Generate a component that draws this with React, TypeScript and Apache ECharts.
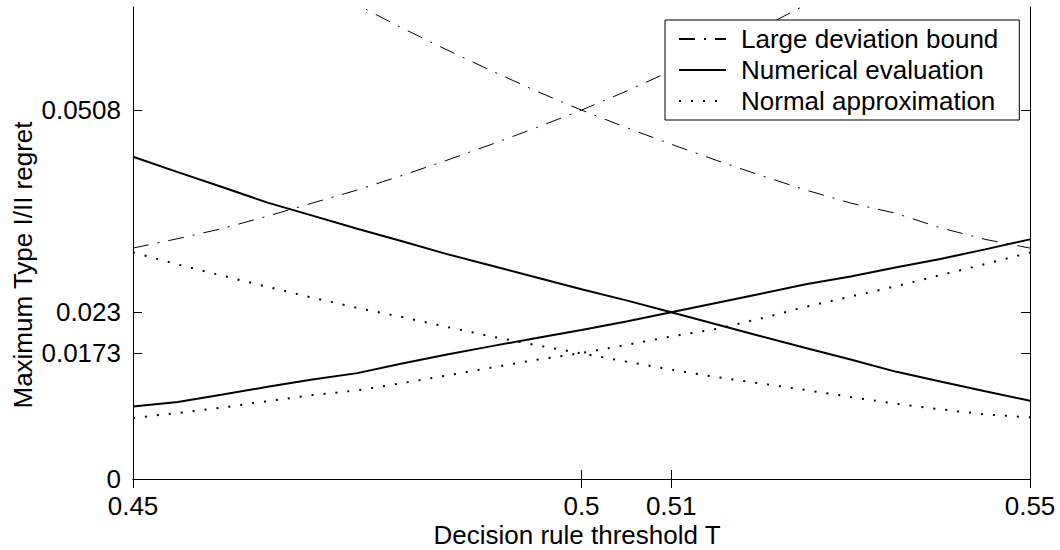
import React, { useEffect, useRef } from "react";
import * as echarts from "echarts";

const thresholds = [0.45, 0.455, 0.46, 0.465, 0.47, 0.475, 0.48, 0.485, 0.49, 0.495, 0.5, 0.505, 0.51, 0.515, 0.52, 0.525, 0.53, 0.535, 0.54, 0.545, 0.55];

const numericalDecreasing = [0.04437, 0.04226, 0.04017, 0.03806, 0.03627, 0.03446, 0.03274, 0.03097, 0.02936, 0.02775, 0.02614, 0.0246, 0.02296, 0.02132, 0.01967, 0.01803, 0.01646, 0.01479, 0.01344, 0.01209, 0.01078];
const numericalIncreasing = [0.00998, 0.0106, 0.01163, 0.01269, 0.0137, 0.01458, 0.0159, 0.01715, 0.0183, 0.01941, 0.02053, 0.02168, 0.02295, 0.02423, 0.02552, 0.02682, 0.02788, 0.02913, 0.03031, 0.03162, 0.033];
const normalDecreasing = [0.03121, 0.02954, 0.02799, 0.02646, 0.02497, 0.02357, 0.0223, 0.02094, 0.01962, 0.01842, 0.0173, 0.01616, 0.01506, 0.01404, 0.01316, 0.01225, 0.0113, 0.01038, 0.0096, 0.00889, 0.00849];
const normalIncreasing = [0.0084, 0.00909, 0.00984, 0.01072, 0.01156, 0.01221, 0.0132, 0.01425, 0.01535, 0.01642, 0.01735, 0.01847, 0.01962, 0.02065, 0.0221, 0.02372, 0.02512, 0.02653, 0.02807, 0.0296, 0.03118];

const ldIncreasingT = [0.45, 0.455, 0.46, 0.465, 0.47, 0.475, 0.48, 0.485, 0.49, 0.495, 0.5, 0.505, 0.51, 0.515, 0.52, 0.525, 0.53];
const ldIncreasing = [0.0318, 0.0331, 0.0345, 0.0362, 0.038, 0.0398, 0.0418, 0.0439, 0.0461, 0.0484, 0.0508, 0.0534, 0.0562, 0.0591, 0.0621, 0.0653, 0.0687];
const ldDecreasingT = [0.47, 0.475, 0.48, 0.485, 0.49, 0.495, 0.5, 0.505, 0.51, 0.515, 0.52, 0.525, 0.53, 0.535, 0.54, 0.545, 0.55];
const ldDecreasing = [0.0687, 0.0653, 0.0621, 0.0591, 0.0562, 0.0534, 0.0508, 0.0484, 0.0461, 0.0439, 0.0418, 0.0398, 0.038, 0.0366, 0.0346, 0.033, 0.0318];

const xTicks = [0.45, 0.5, 0.51, 0.55];
const yTicks = [0, 0.0173, 0.023, 0.0508];

const seriesNames = ["Large deviation bound", "Numerical evaluation", "Normal approximation"];
const xTitle = "Decision rule threshold T";
const yTitle = "Maximum Type I/II regret";

const FONT = "'Liberation Sans', Arial, Helvetica, sans-serif";
const FS = 26;

const pairs = (xs: number[], ys: number[]) => xs.map((x, i) => [x, ys[i]]);

export default function App() {
  const ref = useRef<HTMLDivElement>(null);
  useEffect(() => {
    if (!ref.current) return;
    const chart = echarts.init(ref.current, null, { renderer: "svg" });
    const dashDot = { color: "#000", width: 1, type: [16, 9, 2, 9] as number[] };
    const solid = { color: "#000", width: 2, type: "solid" as const };
    const dotted = { color: "#000", width: 2, type: [2, 10] as number[] };
    const axisCommon = {
      type: "value" as const,
      axisLine: { show: true, lineStyle: { color: "#000", width: 1 } },
      splitLine: { show: false },
    };
    chart.setOption({
      animation: false,
      backgroundColor: "#fff",
      textStyle: { fontFamily: FONT },
      grid: { left: 133, right: 30, top: 7, bottom: 71, containLabel: false },
      xAxis: [
        {
          ...axisCommon,
          min: 0.45,
          max: 0.55,
          position: "bottom",
          axisTick: { show: true, inside: true, length: 9, lineStyle: { color: "#000" }, customValues: xTicks },
          axisLabel: { show: true, customValues: xTicks, color: "#000", fontSize: FS, fontFamily: FONT, lineHeight: 20, margin: 17, formatter: (v: number) => String(v) },
        },
        {
          ...axisCommon,
          min: 0.45,
          max: 0.55,
          position: "top",
          axisTick: { show: true, inside: true, length: 9, lineStyle: { color: "#000" }, customValues: xTicks },
          axisLabel: { show: false },
        },
      ],
      yAxis: [
        {
          ...axisCommon,
          min: 0,
          max: 0.065,
          position: "left",
          axisTick: { show: true, inside: true, length: 9, lineStyle: { color: "#000" }, customValues: yTicks },
          axisLabel: { show: true, customValues: yTicks, color: "#000", fontSize: FS, fontFamily: FONT, lineHeight: 20, margin: 12, padding: [0, 0, 6, 0], formatter: (v: number) => String(v) },
        },
        {
          ...axisCommon,
          min: 0,
          max: 0.065,
          position: "right",
          axisTick: { show: true, inside: true, length: 9, lineStyle: { color: "#000" }, customValues: yTicks },
          axisLabel: { show: false },
        },
      ],
      legend: {
        data: seriesNames,
        orient: "vertical",
        left: 665,
        top: 20,
        padding: [6, 21, 6, 13],
        itemWidth: 47,
        itemHeight: 0,
        itemGap: 5,
        itemStyle: { borderWidth: 0, color: "rgba(0,0,0,0)" },
        backgroundColor: "#fff",
        borderColor: "#000",
        borderWidth: 1,
        borderRadius: 0,
        textStyle: { fontSize: FS, fontFamily: FONT, color: "#000", lineHeight: 26, padding: [0, 0, 0, 10] },
      },
      graphic: [
        {
          type: "text",
          x: 577,
          y: 535,
          style: { text: xTitle, font: `${FS}px ${FONT}`, lineHeight: 20, fill: "#000", textAlign: "center", textVerticalAlign: "middle", x: 0, y: 0 },
        },
        {
          type: "text",
          x: 23,
          y: 265,
          rotation: Math.PI / 2,
          style: { text: yTitle, font: `${FS}px ${FONT}`, lineHeight: 20, fill: "#000", textAlign: "center", textVerticalAlign: "middle", x: 0, y: 0 },
        },
      ],
      series: [
        { name: seriesNames[0], type: "line", symbol: "none", data: pairs(ldIncreasingT, ldIncreasing), lineStyle: dashDot, itemStyle: { color: "#000" } },
        { name: seriesNames[0], type: "line", symbol: "none", data: pairs(ldDecreasingT, ldDecreasing), lineStyle: dashDot, itemStyle: { color: "#000" } },
        { name: seriesNames[1], type: "line", symbol: "none", data: pairs(thresholds, numericalDecreasing), lineStyle: solid, itemStyle: { color: "#000" } },
        { name: seriesNames[1], type: "line", symbol: "none", data: pairs(thresholds, numericalIncreasing), lineStyle: solid, itemStyle: { color: "#000" } },
        { name: seriesNames[2], type: "line", symbol: "none", data: pairs(thresholds, normalDecreasing), lineStyle: dotted, itemStyle: { color: "#000" } },
        { name: seriesNames[2], type: "line", symbol: "none", data: pairs(thresholds, normalIncreasing), lineStyle: dotted, itemStyle: { color: "#000" } },
      ],
    });
    return () => chart.dispose();
  }, []);
  return <div ref={ref} style={{ position: "fixed", left: 0, top: 0, width: 1060, height: 550 }} />;
}
